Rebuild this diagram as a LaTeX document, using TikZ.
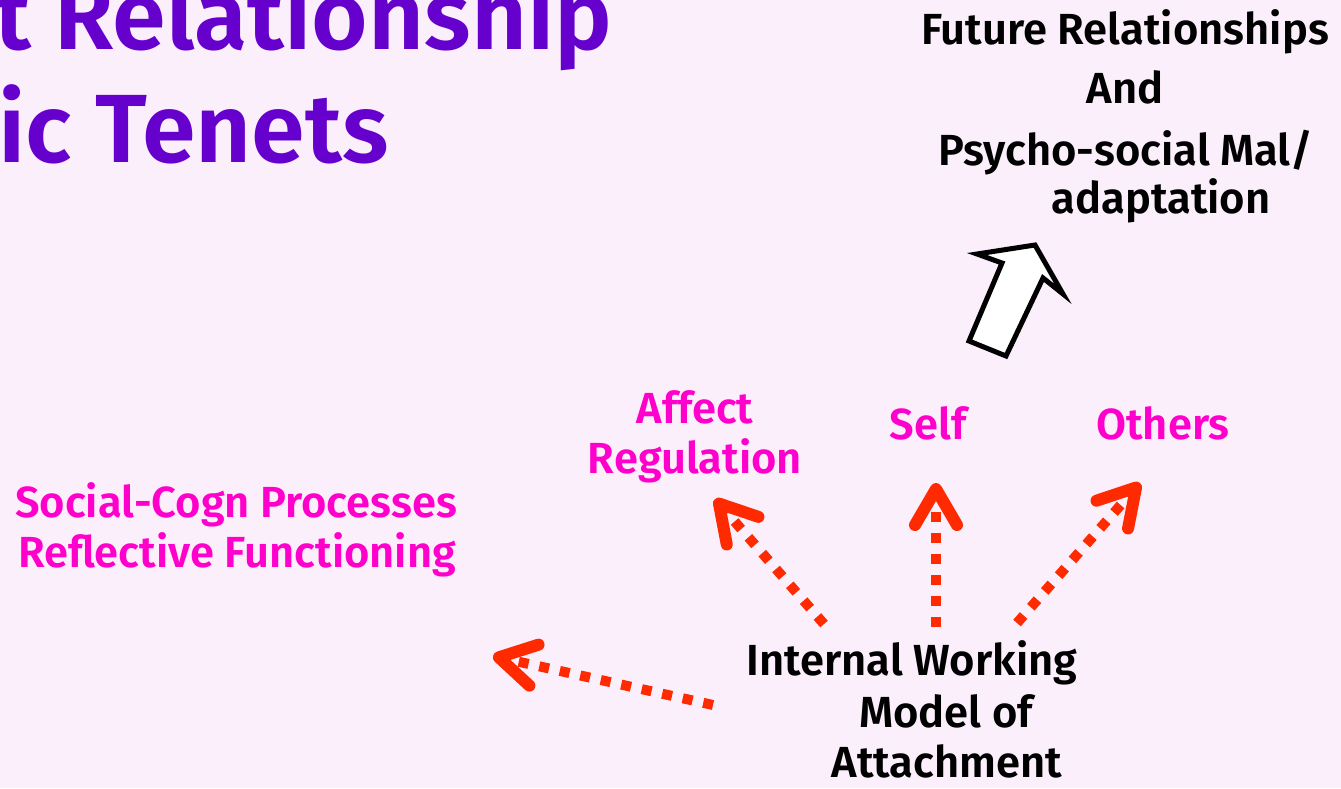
\documentclass[tikz,border=0pt]{standalone}
\usepackage{fontspec}
\setmainfont{Fira Sans}[BoldFont={Fira Sans SemiBold}]
\usetikzlibrary{arrows.meta}
\definecolor{bgc}{HTML}{FBEFFC}
\definecolor{titlec}{HTML}{6600CC}
\definecolor{magc}{HTML}{FF00CC}
\definecolor{redc}{HTML}{FF2A00}
\begin{document}
\begin{tikzpicture}[x=1pt,y=-1pt,
  lbl/.style={font=\fontsize{43.5}{50}\selectfont\bfseries, inner sep=0pt, anchor=base},
  blk/.style={lbl, text=black},
  mag/.style={lbl, text=magc},
  ttl/.style={font=\fontsize{97}{113}\selectfont\bfseries, text=titlec, inner sep=0pt, anchor=base west},
  dotarrow/.style={draw=redc, line width=10pt, dash pattern=on 10pt off 11pt,
    -{Straight Barb[length=36pt,width=42pt,line width=12pt,round]}},
  hollow/.style={draw=black, line width=5pt, fill=white, line join=miter}
]
\useasboundingbox (0,0) rectangle (1341,788);
\fill[bgc] (0,0) rectangle (1341,788);
\clip (0,0) rectangle (1341,788);

% title
\node[ttl] (title1) at (-6,49) {t Relationship};
\node[ttl] (title2) at (-2,162) {ic Tenets};

% future block
\node[blk] (fut1) at (1125,44) {Future Relationships};
\node[blk] (fut2) at (1125,103) {And};
\node[blk] (fut3) at (1126,165) {Psycho-social Mal/};
\node[blk] (fut4) at (1161,213) {adaptation};

% hollow arrow
\draw[hollow] (1035,245) -- (1063,294) -- (1043,278) -- (1006,356) -- (969,341) -- (1002,263) -- (977,254) -- cycle;

% magenta labels
\node[mag] (aff1) at (695,423) {Affect};
\node[mag] (aff2) at (695,473) {Regulation};
\node[mag] (self) at (928,439) {Self};
\node[mag] (others) at (1163,439) {Others};
\node[mag] (soc1) at (236,517) {Social-Cogn Processes};
\node[mag] (soc2) at (237,567) {Reflective Functioning};

% internal working model
\node[blk] (iwm1) at (912,675) {Internal Working};
\node[blk] (iwm2) at (946,727) {Model of};
\node[blk] (iwm3) at (947,777) {Attachment};

% arrow endpoints
\coordinate (sSelf) at (936,627);
\coordinate (tSelf) at (936,483);
\coordinate (sOth) at (1017,623);
\coordinate (tOth) at (1140,483);
\coordinate (sAff) at (824,624);
\coordinate (tAff) at (715,499);
\coordinate (sSoc) at (713,705);
\coordinate (tSoc) at (493,656);

\draw[dotarrow] (sSelf) -- (tSelf);
\draw[dotarrow] (sOth) -- (tOth);
\draw[dotarrow] (sAff) -- (tAff);
\draw[dotarrow] (sSoc) -- (tSoc);
\end{tikzpicture}
\end{document}
